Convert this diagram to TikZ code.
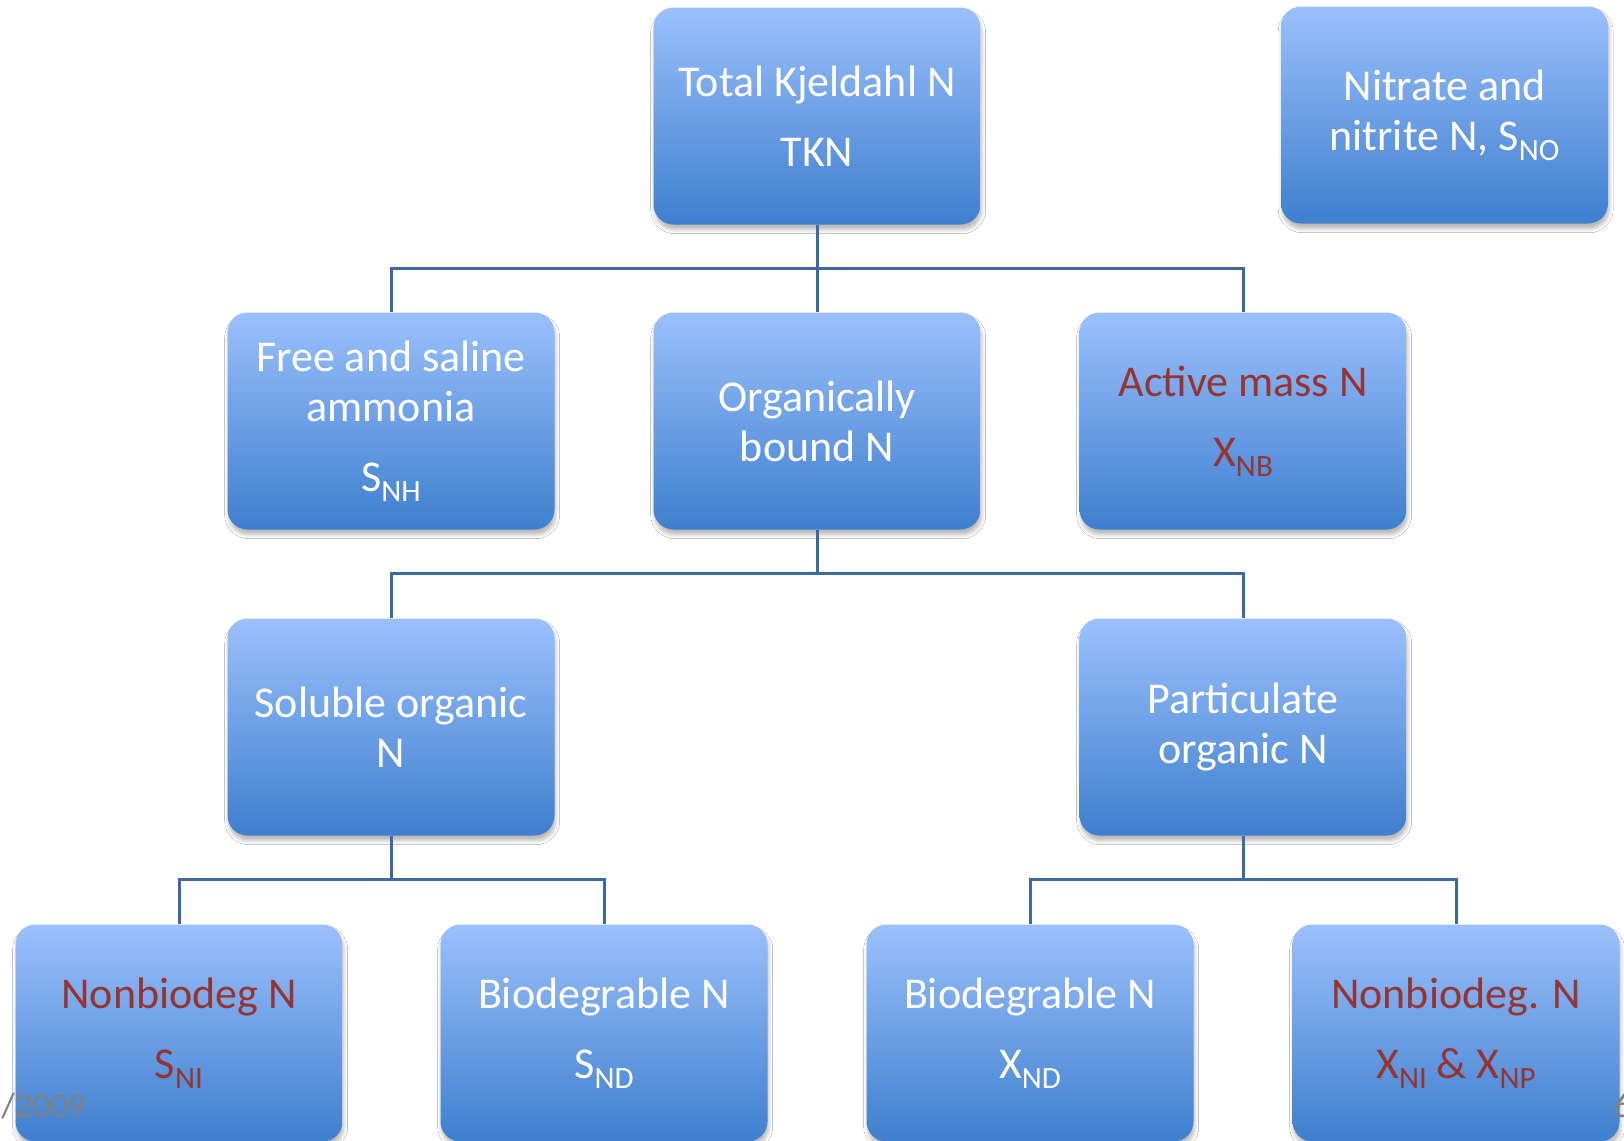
\documentclass[tikz,border=0pt]{standalone}
\usepackage{fontspec}
\setmainfont{Carlito}
\usetikzlibrary{shadows.blur}
\definecolor{boxtop}{RGB}{155,192,252}
\definecolor{boxbot}{RGB}{62,127,206}
\definecolor{conncol}{RGB}{60,106,160}
\definecolor{redtxt}{RGB}{150,52,50}
\definecolor{foot}{RGB}{128,128,128}
% lowered, smaller subscript text
\newcommand{\lo}[1]{\raisebox{-5pt}{\fontsize{15.5}{15.5}\selectfont #1}}

\begin{document}
\begin{tikzpicture}[x=0.5pt,y=-0.5pt,
  nbox/.style={rounded corners=10pt, minimum width=163.5pt, minimum height=108.5pt,
    inner sep=0pt, top color=boxtop, bottom color=boxbot, text=white, align=center,
    font=\fontsize{22}{25}\selectfont,
    blur shadow={shadow xshift=0.6pt, shadow yshift=-2.6pt, shadow blur radius=2pt, shadow opacity=28}},
  redbox/.style={nbox, text=redtxt},
  conn/.style={draw=conncol, line width=1.5pt},
  foottxt/.style={text=foot, font=\fontsize{17.5}{17.5}\selectfont, inner sep=0pt}]

\useasboundingbox (0,0) rectangle (1624,1141);
\fill[white] (0,0) rectangle (1624,1141);

% boxes
\node[nbox] (tkn) at (817,116) {Total Kjeldahl N\\[10pt]TKN};
\node[nbox] (nit) at (1444.5,115) {Nitrate and\\nitrite N, S\lo{NO}};

\node[nbox] (fsa) at (391,421) {Free and saline\\ammonia\\[10pt]S\lo{NH}};
\node[nbox] (obn) at (817,421) {Organically\\bound N};
\node[redbox] (amn) at (1243,421) {Active mass N\\[10pt]X\lo{NB}};

\node[nbox] (son) at (391,727) {Soluble organic\\N};
\node[nbox] (pon) at (1243,727) {Particulate\\organic N};

\node[redbox] (sni) at (179,1033) {Nonbiodeg N\\[10pt]S\lo{NI}};
\node[nbox] (snd) at (604,1033) {Biodegrable N\\[10pt]S\lo{ND}};
\node[nbox] (xnd) at (1030,1033) {Biodegrable N\\[10pt]X\lo{ND}};
\node[redbox] (xni) at (1456,1033) {Nonbiodeg. N\\[10pt]X\lo{NI} \& X\lo{NP}};

% bus levels
\coordinate (b1) at (0,268);
\coordinate (b2) at (0,573);
\coordinate (b3) at (0,879);

% tree connectors
\draw[conn] (tkn.south) -- (tkn.south |- b1);
\draw[conn] (fsa.north) |- (tkn.south |- b1) -| (amn.north);
\draw[conn] (obn.north) -- (obn.north |- b1);

\draw[conn] (obn.south) -- (obn.south |- b2);
\draw[conn] (son.north) |- (obn.south |- b2) -| (pon.north);

\draw[conn] (son.south) -- (son.south |- b3);
\draw[conn] (sni.north) |- (son.south |- b3) -| (snd.north);

\draw[conn] (pon.south) -- (pon.south |- b3);
\draw[conn] (xnd.north) |- (pon.south |- b3) -| (xni.north);

% footer texts
\node[foottxt, anchor=base west] (date) at (1,1117) {/2009};
\node[foottxt, anchor=base west] (page) at (1613,1117) {6};
\end{tikzpicture}
\end{document}
